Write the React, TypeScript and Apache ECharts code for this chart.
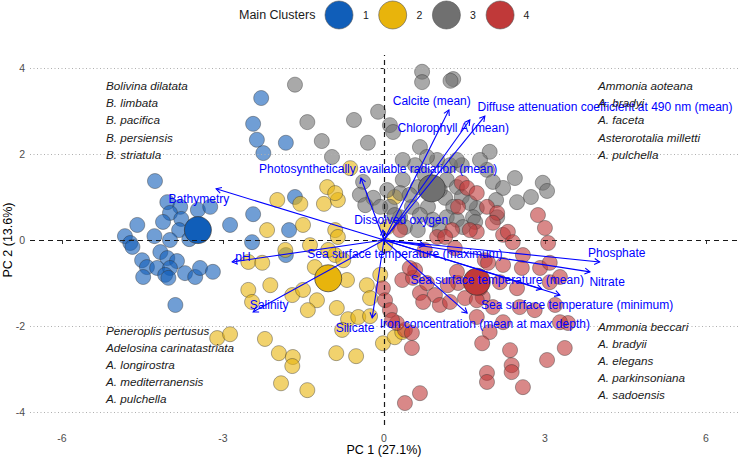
import React, { useEffect, useRef } from "react";
import * as echarts from "echarts";

const FONT = '"Liberation Sans", Arial, Helvetica, sans-serif';

const clusterNames = ["1", "2", "3", "4"];
const clusterColors = ["#105EB9", "#E8B40C", "#707070", "#C03939"];
const legendTitle = "Main Clusters";
const xAxisTitle = "PC 1 (27.1%)";
const yAxisTitle = "PC 2 (13.6%)";

const cluster1Points: number[][] = [
  [-4.27, 1.37], [-4.04, 0.88], [-3.8, 0.77], [-3.47, 0.7], [-3.24, 0.77], [-3.99, 0.63], [-3.78, 0.49],
  [-4.12, 0.42], [-4.6, 0.35], [-3.82, 0.23], [-4.28, 0.09], [-4.83, 0.09], [-4.73, -0.07], [-3.99, 0.0],
  [-3.63, 0.02], [-2.87, 0.35], [-2.44, 0.6], [-2.46, -0.05], [-4.69, -0.16], [-4.17, -0.28], [-4.51, -0.47],
  [-4.04, -0.42], [-3.86, -0.49], [-4.42, -0.63], [-4.23, -0.65], [-3.99, -0.65], [-4.08, -0.81], [-4.49, -0.86],
  [-4.02, -0.88], [-3.71, -0.77], [-3.52, -0.86], [-3.43, -0.65], [-3.19, -0.74], [-3.89, -1.51], [-2.29, 3.3],
  [-2.44, 2.7], [-2.37, 2.33], [-2.25, 2.02], [-1.83, 2.26], [-1.66, 1.0], [-1.77, 0.23], [-1.83, -0.35],
];

const cluster2Points: number[][] = [
  [-0.63, 1.67], [-1.06, 1.23], [-1.12, 0.84], [-0.86, 0.93], [-0.91, 1.09], [-1.99, 0.93], [-1.56, 0.84],
  [-1.51, 0.35], [-2.18, 0.23], [0.2, 1.0], [-0.91, 0.23], [-0.86, 0.07], [0.06, 0.3], [-1.38, -0.12],
  [-2.53, -0.51], [-2.27, -0.53], [-2.12, -1.05], [-2.53, -1.16], [-2.46, -1.44], [-1.71, -1.28], [-1.51, -1.16],
  [-1.25, -1.4], [-1.42, -1.63], [-2.22, -2.3], [-1.96, -2.63], [-1.7, -2.72], [-1.71, -2.93], [-1.92, -3.33],
  [-1.43, -3.49], [-0.89, -2.63], [-0.52, -2.7], [-0.67, -1.84], [-0.48, -1.79], [-0.78, -2.09], [-0.88, -1.58],
  [-0.69, -0.93], [-0.32, -1.05], [-0.26, -1.35], [-0.07, -0.81], [-0.02, -2.4], [0.2, -2.26], [-0.26, -1.77],
  [-0.91, -0.35], [-1.29, -0.63], [-1.04, -0.23], [-0.76, -0.47], [-3.11, -2.28], [-2.87, -2.19], [0.02, -0.12],
  [0.34, -2.14], [-1.84, -0.23],
];

const cluster3Points: number[][] = [
  [0.71, 3.91], [0.71, 3.67], [1.29, 3.74], [1.24, 3.7], [-1.66, 3.61], [-0.11, 2.98], [-1.43, 2.74], [-0.56, 2.79],
  [-1.16, 2.3], [-0.3, 2.26], [-0.97, 1.93], [0.11, 2.67], [0.17, 2.51], [1.97, 2.05], [1.92, 1.63], [2.03, 1.35],
  [2.44, 1.44], [2.22, 1.21], [2.96, 1.33], [3.04, 1.14], [2.74, 1.0], [2.48, 0.88], [2.09, 0.93], [1.73, 0.74],
  [2.11, 0.53], [0.67, 2.16], [0.58, 1.74], [1.45, 1.74], [0.35, 1.4], [0.3, 1.09], [0.06, 1.16], [-0.2, 0.98],
  [0.11, 0.77], [0.63, 1.23], [1.17, 1.4], [1.36, 1.23], [1.45, 1.0], [1.14, 0.98], [1.6, 0.86], [1.66, 0.53],
  [1.29, 0.77], [1.17, 0.53], [1.36, 0.47], [1.47, 0.3], [0.52, 0.77], [0.82, 0.77], [0.39, 0.3], [0.63, 0.23],
  [0.3, 0.53], [0.91, 0.47], [1.04, 0.23], [-0.39, 1.35], [-0.45, 1.05], [-0.35, 0.81], [-0.07, 0.77], [0.35, 1.86],
  [0.99, 1.86], [1.23, 1.74], [1.7, 0.42], [0.8, 1.93], [1.36, 1.86], [0.76, 1.51], [1.04, 1.16], [0.48, 1.05],
  [0.2, 0.58], [0.67, 0.58], [1.79, 1.86],
];

const cluster4Points: number[][] = [
  [1.92, 0.77], [2.11, 0.63], [2.03, 0.4], [2.22, 0.12], [2.31, 0.19], [2.87, 0.58], [3.0, 0.28], [3.06, -0.07],
  [1.73, 0.19], [2.4, -0.05], [2.59, -0.35], [1.88, -0.47], [2.22, -0.58], [2.91, -0.65], [2.57, -0.65],
  [3.09, -0.98], [2.16, -0.98], [2.48, -1.12], [1.84, -1.33], [2.53, -1.56], [3.19, -1.51], [3.43, -1.93],
  [2.81, -1.63], [2.22, -1.91], [1.97, -2.14], [3.28, -0.86], [1.83, -2.4], [2.35, -2.56], [3.37, -2.51],
  [3.04, -2.79], [2.38, -2.91], [2.38, -3.07], [1.92, -3.09], [1.92, -3.3], [2.59, -3.42], [3.28, -1.91],
  [2.03, -1.56], [-0.02, -1.12], [0.02, -1.4], [0.11, -1.63], [0.34, -0.93], [0.54, -0.88], [0.67, -1.23],
  [0.8, -1.0], [0.95, -1.28], [0.58, -0.7], [0.73, -1.44], [1.04, -1.51], [1.23, -1.44], [0.39, -2.09],
  [0.24, -1.93], [0.52, -2.51], [0.67, -3.56], [0.39, -3.79], [1.38, -1.0], [1.51, -1.35], [1.79, -1.12],
  [1.36, -0.74], [1.94, -0.53], [0.3, 0.23], [0.48, -0.65], [1.19, -1.05], [1.73, -1.79], [1.73, -1.4],
  [0.52, -2.16], [0.15, -1.86], [1.45, 1.33], [1.55, 1.21], [1.73, 1.09], [1.38, 0.77], [1.27, 0.23],
  [0.99, 0.07], [1.14, 0.07], [1.6, 0.23], [3.09, -0.53], [0.76, -0.23], [1.32, -0.19],
];

const clusterCentroids: number[][] = [
  [-3.47, 0.23], [-1.04, -0.89], [0.89, 1.2], [1.73, -0.97],
];

const variableNames = [
  "Bathymetry", "pH", "Salinity", "Silicate", "Iron concentration (mean at max depth)",
  "Sea surface temperature (minimum)", "Sea surface temperature (mean)", "Nitrate", "Phosphate",
  "Sea surface temperature (maximum)", "Dissolved oxygen", "Photosynthetically available radiation (mean)",
  "Calcite (mean)", "Chlorophyll A (mean)", "Diffuse attenuation coefficient at 490 nm (mean)",
];

const variableLoadings: number[][] = [
  [-3.13, 1.19], [-2.83, -0.51], [-2.44, -1.67], [-0.22, -1.81], [1.55, -1.7],
  [3.28, -1.28], [2.94, -1.14], [3.84, -0.74], [4.02, -0.51],
  [0.76, -0.12], [-0.02, 0.23], [-0.43, 1.44],
  [1.21, 3.02], [1.6, 2.79], [1.88, 2.88],
];

const variableLabelPositions: number[][] = [
  [-3.45, 0.95], [-2.63, -0.4], [-2.14, -1.51], [-0.54, -2.05], [1.88, -1.95],
  [3.6, -1.51], [2.11, -0.93], [4.16, -0.98], [4.34, -0.3],
  [0.39, -0.33], [0.32, 0.47], [-0.11, 1.65],
  [0.89, 3.23], [1.29, 2.6], [4.12, 3.09],
];

const speciesTopLeft = ["Bolivina dilatata", "B. limbata", "B. pacifica", "B. persiensis", "B. striatula"];
const speciesTopRight = ["Ammonia aoteana", "A. bradyi", "A. faceta", "Asterorotalia milletti", "A. pulchella"];
const speciesBottomLeft = ["Peneroplis pertusus", "Adelosina carinatastriata", "A. longirostra", "A. mediterranensis", "A. pulchella"];
const speciesBottomRight = ["Ammonia beccari", "A. bradyii", "A. elegans", "A. parkinsoniana", "A. sadoensis"];

const gridLineValues = [-4, -2, 2, 4];

export default function App() {
  const ref = useRef<HTMLDivElement>(null);

  useEffect(() => {
    if (!ref.current) return;
    const chart = echarts.init(ref.current, undefined, { renderer: "svg" });

    const pointSets = [cluster1Points, cluster2Points, cluster3Points, cluster4Points];

    const speciesBlock = (lines: string[], x: number, y0: number, step: number) =>
      lines.map((t, i) => ({
        type: "text",
        z: 100,
        x,
        y: y0 + i * step,
        style: {
          text: t,
          fill: "#1A1A1A",
          fontSize: 11.7,
          fontStyle: "italic",
          fontFamily: FONT,
          align: "left",
          verticalAlign: "middle",
        },
      }));

    const legendEls: any[] = [
      {
        type: "text",
        z: 100,
        x: 239,
        y: 15,
        style: { text: legendTitle, fill: "#1A1A1A", fontSize: 12.5, fontFamily: FONT, align: "left", verticalAlign: "middle" },
      },
    ];
    clusterNames.forEach((n, i) => {
      legendEls.push({
        type: "circle",
        z: 100,
        shape: { cx: 339 + i * 53.7, cy: 15, r: 14 },
        style: { fill: clusterColors[i], stroke: "#555", lineWidth: 0.6 },
      });
      legendEls.push({
        type: "text",
        z: 100,
        x: 366 + i * 53.5,
        y: 15,
        style: { text: n, fill: "#1A1A1A", fontSize: 10.5, fontFamily: FONT, align: "center", verticalAlign: "middle" },
      });
    });

    const option: any = {
      animation: false,
      textStyle: { fontFamily: FONT },
      grid: [
        { left: 30, right: 1, top: 55, height: 370 },
        { left: 62, right: 33, top: 68, height: 344 },
      ],
      xAxis: [
        { gridIndex: 0, type: "value", min: -6.6, max: 6.6, show: false },
        {
          gridIndex: 1,
          type: "value",
          min: -6,
          max: 6,
          interval: 3,
          position: "bottom",
          offset: 13,
          axisLine: { show: true, lineStyle: { color: "#333", opacity: 0 } },
          axisTick: { show: true, length: 4, lineStyle: { color: "#333", width: 1 } },
          axisLabel: { color: "#4D4D4D", fontSize: 10.5, margin: 7, fontFamily: FONT },
          splitLine: { show: false },
        },
      ],
      yAxis: [
        { gridIndex: 0, type: "value", min: -4.3, max: 4.3, show: false },
        {
          gridIndex: 1,
          type: "value",
          min: -4,
          max: 4,
          interval: 2,
          position: "left",
          offset: 32,
          axisLine: { show: true, lineStyle: { color: "#333", opacity: 0 } },
          axisTick: { show: true, length: 3, lineStyle: { color: "#333", width: 1 } },
          axisLabel: { color: "#4D4D4D", fontSize: 10.5, margin: 5, fontFamily: FONT },
          splitLine: { show: false },
        },
      ],
      series: [
        {
          type: "scatter",
          xAxisIndex: 0,
          yAxisIndex: 0,
          data: [],
          z: 1,
          silent: true,
          markLine: {
            silent: true,
            symbol: ["none", "none"],
            label: { show: false },
            lineStyle: { type: [1, 2.5], color: "#AFAFAF", width: 1 },
            data: gridLineValues.map((v) => ({ yAxis: v })),
          },
        },
        ...pointSets.map((pts, i) => ({
          type: "scatter",
          name: clusterNames[i],
          xAxisIndex: 0,
          yAxisIndex: 0,
          data: pts,
          symbol: "circle",
          symbolSize: 15,
          z: 2,
          silent: true,
          itemStyle: { color: clusterColors[i], opacity: 0.6, borderColor: "#333", borderWidth: 0.7 },
        })),
        {
          type: "scatter",
          xAxisIndex: 0,
          yAxisIndex: 0,
          data: [],
          z: 3,
          silent: true,
          markLine: {
            silent: true,
            symbol: ["none", "none"],
            label: { show: false },
            lineStyle: { type: [5, 4], color: "#1A1A1A", width: 1.2 },
            data: [{ yAxis: 0 }, { xAxis: 0 }],
          },
        },
        {
          type: "scatter",
          xAxisIndex: 0,
          yAxisIndex: 0,
          z: 4,
          silent: true,
          symbol: "circle",
          symbolSize: 27,
          data: clusterCentroids.map((c, i) => ({
            value: c,
            itemStyle: { color: clusterColors[i], opacity: 1, borderColor: "#333", borderWidth: 0.7 },
          })),
        },
        {
          type: "custom",
          xAxisIndex: 0,
          yAxisIndex: 0,
          z: 5,
          silent: true,
          clip: false,
          data: variableLoadings,
          renderItem: (params: any, api: any) => {
            const o = api.coord([0, 0]);
            const e = api.coord([api.value(0), api.value(1)]);
            const ang = Math.atan2(e[1] - o[1], e[0] - o[0]);
            const hl = 6;
            const ha = Math.PI / 6;
            const p1 = [e[0] - hl * Math.cos(ang - ha), e[1] - hl * Math.sin(ang - ha)];
            const p2 = [e[0] - hl * Math.cos(ang + ha), e[1] - hl * Math.sin(ang + ha)];
            return {
              type: "group",
              children: [
                {
                  type: "line",
                  shape: { x1: o[0], y1: o[1], x2: e[0], y2: e[1] },
                  style: { stroke: "#0000FF", lineWidth: 1.1, fill: null },
                },
                {
                  type: "polyline",
                  shape: { points: [p1, e, p2] },
                  style: { stroke: "#0000FF", lineWidth: 1.1, fill: null },
                },
              ],
            };
          },
        },
        {
          type: "custom",
          xAxisIndex: 0,
          yAxisIndex: 0,
          z: 6,
          silent: true,
          clip: false,
          data: variableLabelPositions,
          renderItem: (params: any, api: any) => {
            const c = api.coord([api.value(0), api.value(1)]);
            return {
              type: "text",
              x: c[0],
              y: c[1],
              style: {
                text: variableNames[params.dataIndex],
                fill: "#0000FF",
                fontSize: 12,
                fontFamily: FONT,
                align: "center",
                verticalAlign: "middle",
                textAlign: "center",
                textVerticalAlign: "middle",
              },
            };
          },
        },
      ],
      graphic: {
        elements: [
          ...legendEls,
          ...speciesBlock(speciesTopLeft, 106, 85.5, 17.2),
          ...speciesBlock(speciesTopRight, 598, 85.7, 17.1),
          ...speciesBlock(speciesBottomLeft, 106, 330, 17.1),
          ...speciesBlock(speciesBottomRight, 598, 326.7, 16.9),
          {
            type: "text",
            z: 100,
            x: 384,
            y: 450,
            style: { text: xAxisTitle, fill: "#000", fontSize: 12.5, fontFamily: FONT, align: "center", verticalAlign: "middle" },
          },
          {
            type: "text",
            z: 100,
            x: 8,
            y: 240,
            rotation: Math.PI / 2,
            style: { text: yAxisTitle, fill: "#000", fontSize: 12.5, fontFamily: FONT, align: "center", verticalAlign: "middle" },
          },
        ],
      },
    };

    chart.setOption(option);
    return () => chart.dispose();
  }, []);

  return (
    <div
      ref={ref}
      style={{ position: "fixed", left: 0, top: 0, width: 739, height: 459, background: "#fff" }}
    />
  );
}
